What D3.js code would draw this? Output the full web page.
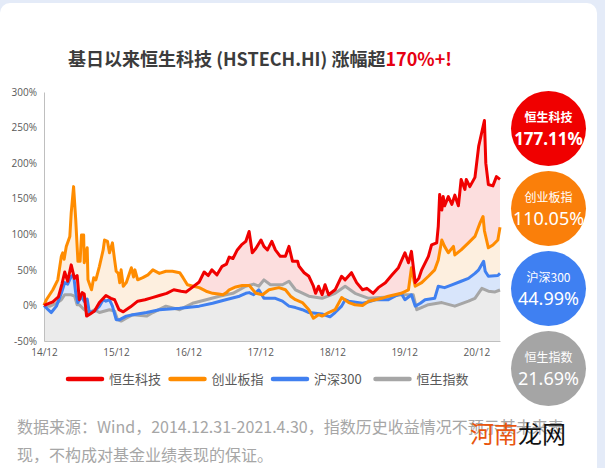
<!DOCTYPE html>
<html>
<head>
    <meta charset="utf-8">
    <title>恒生科技 涨幅</title>
    <script src="https://d3js.org/d3.v7.min.js"></script>
    <style>
        body { margin: 0; background: #e4ebf8; }
        svg { display: block; font-family: "Noto Sans CJK SC", "Noto Sans", sans-serif; }
        .axis text { fill: #595959; font-size: 10px; font-family: "Open Sans", "Noto Sans", sans-serif; }
        .axis path { stroke: #bfbfbf; }
    </style>
</head>
<body>
<svg width="605" height="468"></svg>
<script>

    // series names, colours, final returns
    var names = ["恒生科技", "创业板指", "沪深300", "恒生指数"];
    var finals = ["177.11%", "110.05%", "44.99%", "21.69%"];
    var lineColors = ["#f00000", "#ff8c00", "#4080f0", "#a6a6a6"];
    var areaColors = ["#fcdede", "#fdefdf", "#d8e5fb", "#ebebeb"];
    var badgeColors = ["#f00000", "#fa7f0a", "#3f80f2", "#a5a5a5"];

    var yTicks = [-50, 0, 50, 100, 150, 200, 250, 300];
    var xTicks = ["2014-12-31", "2015-12-31", "2016-12-31", "2017-12-31", "2018-12-31", "2019-12-31", "2020-12-31"];

    // cumulative return (%) since 2014-12-31
    var hstech = [
        ["2014-12-31", 0], ["2015-02-14", 5], ["2015-03-14", 12], ["2015-04-01", 30], ["2015-04-15", 47],
        ["2015-04-30", 34], ["2015-05-18", 57], ["2015-06-03", 38], ["2015-06-17", 42], ["2015-06-28", 8],
        ["2015-07-13", 18], ["2015-07-23", 16], ["2015-08-04", -15], ["2015-08-22", -12], ["2015-09-13", -8],
        ["2015-10-08", 4], ["2015-11-10", 14], ["2015-12-05", 10], ["2015-12-24", 8], ["2016-01-15", -6],
        ["2016-02-06", -9], ["2016-03-14", -2], ["2016-04-19", 6], ["2016-05-26", 8], ["2016-07-02", 11],
        ["2016-08-07", 14], ["2016-09-13", 17], ["2016-10-19", 22], ["2016-11-25", 20], ["2016-12-20", 19],
        ["2017-01-19", 25], ["2017-02-25", 33], ["2017-03-22", 47], ["2017-04-12", 42], ["2017-04-30", 50],
        ["2017-05-26", 43], ["2017-06-21", 55], ["2017-07-13", 58], ["2017-07-27", 68], ["2017-08-15", 66],
        ["2017-09-06", 78], ["2017-09-27", 85], ["2017-10-19", 90], ["2017-11-05", 104], ["2017-11-21", 74],
        ["2017-12-09", 80], ["2018-01-04", 92], ["2018-01-19", 83], ["2018-02-06", 78], ["2018-02-28", 90],
        ["2018-03-18", 78], ["2018-04-12", 69], ["2018-05-08", 69], ["2018-05-26", 83], ["2018-06-13", 62],
        ["2018-07-09", 62], ["2018-07-16", 55], ["2018-08-11", 46], ["2018-09-04", 41], ["2018-09-27", 27],
        ["2018-10-08", 17], ["2018-10-23", 27], ["2018-11-10", 15], ["2018-11-25", 29], ["2018-12-13", 15],
        ["2019-01-15", 22], ["2019-02-17", 41], ["2019-03-07", 36], ["2019-04-08", 46], ["2019-05-04", 32],
        ["2019-06-03", 22], ["2019-06-25", 24], ["2019-07-27", 17], ["2019-08-22", 25], ["2019-09-27", 32],
        ["2019-10-31", 43], ["2019-12-02", 53], ["2020-01-04", 74], ["2020-01-22", 60], ["2020-02-06", 76],
        ["2020-02-25", 32], ["2020-03-14", 38], ["2020-03-29", 50], ["2020-05-02", 69], ["2020-05-18", 85],
        ["2020-06-13", 88], ["2020-06-21", 111], ["2020-06-28", 156], ["2020-07-09", 134], ["2020-07-16", 153],
        ["2020-07-23", 140], ["2020-08-11", 153], ["2020-08-29", 142], ["2020-09-13", 155], ["2020-10-01", 140],
        ["2020-10-15", 177], ["2020-11-03", 163], ["2020-11-10", 177], ["2020-11-28", 167], ["2020-12-24", 180],
        ["2021-01-12", 224], ["2021-02-10", 260], ["2021-02-17", 200], ["2021-03-02", 170], ["2021-03-25", 168],
        ["2021-04-12", 181], ["2021-04-30", 177.11]
    ];

    var chinext = [
        ["2014-12-31", 0], ["2015-01-12", 8], ["2015-02-14", 22], ["2015-03-11", 36], ["2015-03-29", 69],
        ["2015-04-05", 74], ["2015-04-12", 65], ["2015-04-23", 83], ["2015-05-11", 97], ["2015-05-18", 130],
        ["2015-05-30", 167], ["2015-06-10", 120], ["2015-06-21", 62], ["2015-07-02", 62], ["2015-07-09", 99],
        ["2015-07-20", 99], ["2015-07-23", 60], ["2015-08-07", 81], ["2015-08-11", 36], ["2015-08-29", 22],
        ["2015-09-09", 39], ["2015-09-20", 36], ["2015-10-08", 55], ["2015-10-27", 78], ["2015-11-03", 92],
        ["2015-11-18", 90], ["2015-11-28", 74], ["2015-12-13", 88], ["2015-12-24", 64], ["2016-01-01", 48],
        ["2016-01-12", 45], ["2016-01-19", 32], ["2016-01-26", 50], ["2016-02-06", 27], ["2016-02-21", 32],
        ["2016-03-18", 53], ["2016-03-29", 40], ["2016-04-05", 50], ["2016-04-19", 36], ["2016-05-15", 39],
        ["2016-06-10", 43], ["2016-07-05", 50], ["2016-08-07", 45], ["2016-09-09", 48], ["2016-10-12", 48],
        ["2016-11-18", 46], ["2016-12-05", 39], ["2016-12-27", 29], ["2017-01-26", 27], ["2017-02-25", 25],
        ["2017-04-01", 20], ["2017-05-04", 17], ["2017-06-03", 16], ["2017-06-25", 15], ["2017-07-13", 18],
        ["2017-07-27", 22], ["2017-08-29", 26], ["2017-10-01", 28], ["2017-11-06", 28], ["2017-12-09", 17],
        ["2018-01-12", 15], ["2018-02-14", 22], ["2018-04-05", 25], ["2018-05-08", 22], ["2018-06-03", 13],
        ["2018-06-28", 8], ["2018-08-02", 4], ["2018-09-04", -6], ["2018-09-27", -18], ["2018-10-23", -13],
        ["2018-11-10", -15], ["2018-12-13", -10], ["2019-01-15", -6], ["2019-02-17", 11], ["2019-03-25", 4],
        ["2019-04-26", 1], ["2019-06-03", 0], ["2019-07-04", 6], ["2019-08-07", 8], ["2019-09-09", 10],
        ["2019-10-12", 13], ["2019-11-14", 15], ["2019-12-16", 17], ["2020-01-22", 22], ["2020-02-06", 53],
        ["2020-02-25", 27], ["2020-03-29", 32], ["2020-05-02", 41], ["2020-06-03", 50], ["2020-06-21", 64],
        ["2020-07-09", 92], ["2020-07-23", 83], ["2020-08-11", 74], ["2020-09-06", 83], ["2020-09-13", 71],
        ["2020-10-15", 78], ["2020-11-21", 88], ["2020-12-24", 97], ["2021-01-19", 116], ["2021-02-03", 125],
        ["2021-02-10", 105], ["2021-03-02", 81], ["2021-03-25", 85], ["2021-04-19", 92], ["2021-04-30", 110.05]
    ];

    var csi300 = [
        ["2014-12-31", 0], ["2015-01-21", -6], ["2015-02-06", -10], ["2015-03-04", -1], ["2015-03-29", 17],
        ["2015-04-15", 32], ["2015-04-30", 30], ["2015-05-18", 41], ["2015-05-30", 43], ["2015-06-10", 17],
        ["2015-06-21", 4], ["2015-07-09", 13], ["2015-07-23", 6], ["2015-08-07", 9], ["2015-08-18", -10],
        ["2015-09-13", -8], ["2015-10-08", -1], ["2015-10-27", 8], ["2015-11-10", 6], ["2015-11-28", 8],
        ["2015-12-13", -1], ["2016-01-01", -20], ["2016-01-19", -20], ["2016-02-21", -15], ["2016-03-25", -13],
        ["2016-06-03", -10], ["2016-08-07", -6], ["2016-11-18", -4], ["2017-02-25", -1], ["2017-05-04", 3],
        ["2017-07-09", 8], ["2017-09-17", 13], ["2017-10-19", 17], ["2017-11-05", 18], ["2017-11-28", 15],
        ["2017-12-24", 22], ["2018-01-19", 10], ["2018-03-18", 10], ["2018-04-23", 6], ["2018-05-26", -1],
        ["2018-06-28", -3], ["2018-08-02", -6], ["2018-09-04", -10], ["2018-11-10", -12], ["2018-12-20", -16],
        ["2019-01-15", -10], ["2019-02-17", -1], ["2019-03-07", 8], ["2019-03-25", 6], ["2019-06-03", 3],
        ["2019-07-04", 5], ["2019-08-07", 8], ["2019-10-12", 8], ["2019-11-14", 13], ["2019-12-16", 17],
        ["2020-01-04", 8], ["2020-02-06", 15], ["2020-02-25", -1], ["2020-03-22", 3], ["2020-04-15", 8],
        ["2020-06-03", 10], ["2020-06-21", 27], ["2020-07-23", 25], ["2020-08-29", 29], ["2020-10-15", 34],
        ["2020-11-21", 38], ["2020-12-24", 45], ["2021-01-12", 50], ["2021-02-06", 62], ["2021-02-14", 48],
        ["2021-03-02", 41], ["2021-04-19", 42], ["2021-04-30", 44.99]
    ];

    var hsi = [
        ["2014-12-31", 0], ["2015-01-31", -1], ["2015-03-04", 3], ["2015-03-29", 8], ["2015-04-15", 15],
        ["2015-05-18", 15], ["2015-06-04", 13], ["2015-06-17", 1], ["2015-06-28", 1], ["2015-07-23", -6],
        ["2015-08-18", -10], ["2015-09-13", -6], ["2015-10-08", -10], ["2015-11-28", -6], ["2015-12-24", -8],
        ["2016-01-08", -20], ["2016-01-26", -22], ["2016-02-21", -18], ["2016-03-25", -13], ["2016-06-03", -15],
        ["2016-07-05", -10], ["2016-09-09", -1], ["2016-11-18", -6], ["2017-01-22", 3], ["2017-04-01", 8],
        ["2017-06-07", 13], ["2017-08-15", 17], ["2017-10-19", 27], ["2017-11-28", 30], ["2017-12-24", 27],
        ["2018-01-19", 36], ["2018-02-21", 29], ["2018-04-23", 29], ["2018-05-26", 34], ["2018-06-28", 22],
        ["2018-09-04", 13], ["2018-11-10", 10], ["2019-01-15", 17], ["2019-03-07", 27], ["2019-04-26", 17],
        ["2019-07-04", 10], ["2019-10-12", 12], ["2019-12-16", 15], ["2020-02-15", 15], ["2020-03-04", -6],
        ["2020-05-02", 1], ["2020-07-09", 4], ["2020-09-13", -1], ["2020-11-21", 6], ["2020-12-24", 10],
        ["2021-01-28", 24], ["2021-03-02", 20], ["2021-04-05", 19], ["2021-04-30", 21.69]
    ];

    var series = [hstech, chinext, csi300, hsi];

    var svg = d3.select("svg");
    var parse = d3.timeParse("%Y-%m-%d");

    // card
    svg.append("rect").attr("width", 605).attr("height", 468).attr("fill", "#e4ebf8");
    svg.append("rect").attr("x", 0).attr("y", 3).attr("width", 597).attr("height", 480)
        .attr("rx", 10).attr("fill", "#ffffff");

    // title
    var title = svg.append("text")
        .attr("x", 260).attr("y", 66)
        .attr("text-anchor", "middle")
        .style("font-size", "18px").style("font-weight", "bold");
    title.append("tspan").attr("fill", "#3c3c3c").text("基日以来恒生科技 (HSTECH.HI) 涨幅超");
    title.append("tspan").attr("fill", "#e60012").text("170%+!");

    var x = d3.scaleTime()
        .domain([parse("2014-12-31"), parse("2021-04-30")])
        .range([44, 500]);

    var y = d3.scaleLinear()
        .domain([-50, 300])
        .range([341, 92]);

    var area = d3.area()
        .x(function(d) { return x(parse(d[0])); })
        .y0(y(-50))
        .y1(function(d) { return y(d[1]); });

    var line = d3.line()
        .x(function(d) { return x(parse(d[0])); })
        .y(function(d) { return y(d[1]); });

    // areas, red at the back, grey in front
    svg.append("g").selectAll("path")
        .data(series)
        .enter().append("path")
        .attr("d", area)
        .attr("fill", function(d, i) { return areaColors[i]; });

    // axes
    svg.append("g")
        .attr("class", "axis")
        .attr("transform", "translate(44,0)")
        .call(d3.axisLeft(y).tickValues(yTicks).tickSize(0).tickPadding(7)
            .tickFormat(function(d) { return d + "%"; }));

    svg.append("g")
        .attr("class", "axis")
        .attr("transform", "translate(0,341)")
        .call(d3.axisBottom(x).tickValues(xTicks.map(parse)).tickSize(0).tickPadding(8)
            .tickFormat(d3.timeFormat("%y/%m")));

    svg.selectAll(".axis .domain").attr("stroke", "#bfbfbf");

    // lines, red on top
    svg.append("g").selectAll("path")
        .data(series.slice().reverse())
        .enter().append("path")
        .attr("d", line)
        .attr("fill", "none")
        .attr("stroke", function(d, i) { return lineColors[3 - i]; })
        .attr("stroke-width", 3)
        .attr("stroke-linejoin", "round");

    // legend
    var legend = svg.append("g").selectAll("g")
        .data(names)
        .enter().append("g")
        .attr("transform", function(d, i) { return "translate(" + (68 + i * 102.5) + ",379)"; });

    legend.append("line")
        .attr("x1", 0).attr("x2", 34)
        .attr("stroke", function(d, i) { return lineColors[i]; })
        .attr("stroke-width", 4.5)
        .attr("stroke-linecap", "round");

    legend.append("text")
        .attr("x", 41).attr("dy", "0.36em")
        .attr("fill", "#595959")
        .style("font-size", "13px")
        .text(function(d) { return d; });

    // badges with the final returns
    var badge = svg.append("g").selectAll("g")
        .data(names)
        .enter().append("g")
        .attr("transform", function(d, i) { return "translate(548.5," + (128.5 + i * 80) + ")"; });

    badge.append("circle")
        .attr("r", 37.5)
        .attr("fill", function(d, i) { return badgeColors[i]; });

    badge.append("text")
        .attr("y", -7)
        .attr("text-anchor", "middle")
        .attr("fill", "#fff")
        .style("font-size", "12px")
        .style("font-weight", function(d, i) { return i == 0 ? "bold" : "normal"; })
        .text(function(d) { return d; });

    badge.append("text")
        .attr("y", 16)
        .attr("text-anchor", "middle")
        .attr("fill", "#fff")
        .style("font-family", "'Noto Sans', sans-serif")
        .style("font-size", function(d, i) { return i == 0 ? "17px" : "18px"; })
        .style("font-weight", function(d, i) { return i == 0 ? "bold" : "normal"; })
        .text(function(d, i) { return finals[i]; });

    // footnote
    var note = svg.append("text")
        .attr("fill", "#a6a6a6")
        .style("font-size", "16px");
    note.append("tspan").attr("x", 17).attr("y", 433)
        .text("数据来源：Wind，2014.12.31-2021.4.30，指数历史收益情况不预示其未来表");
    note.append("tspan").attr("x", 17).attr("y", 461)
        .text("现，不构成对基金业绩表现的保证。");

    // watermark
    var mark = svg.append("text")
        .attr("x", 470).attr("y", 443)
        .style("font-size", "24px");
    mark.append("tspan").attr("fill", "#e8560f").text("河南");
    mark.append("tspan").attr("fill", "#111").text("龙网");

</script>
</body>
</html>
